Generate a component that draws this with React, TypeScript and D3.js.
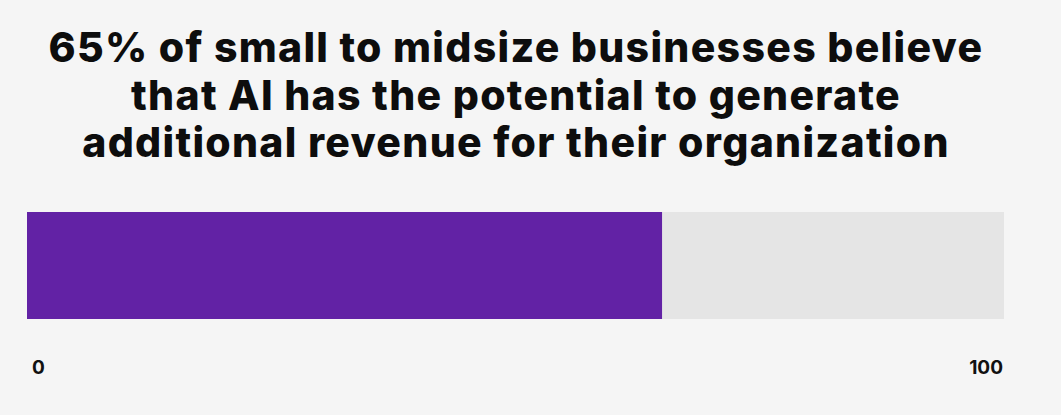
import * as d3 from "d3";

// single progress bar: share of SMBs that see revenue potential in AI
const titleLines = [
  "65% of small to midsize businesses believe",
  "that AI has the potential to generate",
  "additional revenue for their organization",
];
const value = 65;
const domainMax = 100;
const tickLabels = ["0", "100"];

const W = 1061, H = 415;
const FONT = "Inter, 'Noto Sans', sans-serif";

export default function App() {
  const x = d3.scaleLinear().domain([0, domainMax]).range([27, 1004]);
  const barTop = 212, barH = 107;

  return (
    <svg width={W} height={H} viewBox={`0 0 ${W} ${H}`}
         style={{ position: "absolute", left: 0, top: 0, background: "#f5f5f5" }}>
      <rect width={W} height={H} fill="#f5f5f5" />
      {titleLines.map((t, i) => (
        <text key={i} x={516} y={62 + i * 47.5} textAnchor="middle"
              fontFamily={FONT} fontWeight={800} fontSize={41} letterSpacing={1.3} fill="#0d0d0d">
          {t}
        </text>
      ))}
      <rect x={x(0)} y={barTop} width={x(domainMax) - x(0)} height={barH} fill="#e5e5e5" />
      <rect x={x(0)} y={barTop} width={x(value) - x(0)} height={barH} fill="#6222a5" />
      <text x={x(0) + 5} y={374} fontFamily={FONT} fontWeight={700} fontSize={19} fill="#111">
        {tickLabels[0]}
      </text>
      <text x={x(domainMax) - 1} y={374} textAnchor="end" fontFamily={FONT} fontWeight={700}
            fontSize={19} fill="#111">
        {tickLabels[1]}
      </text>
    </svg>
  );
}
